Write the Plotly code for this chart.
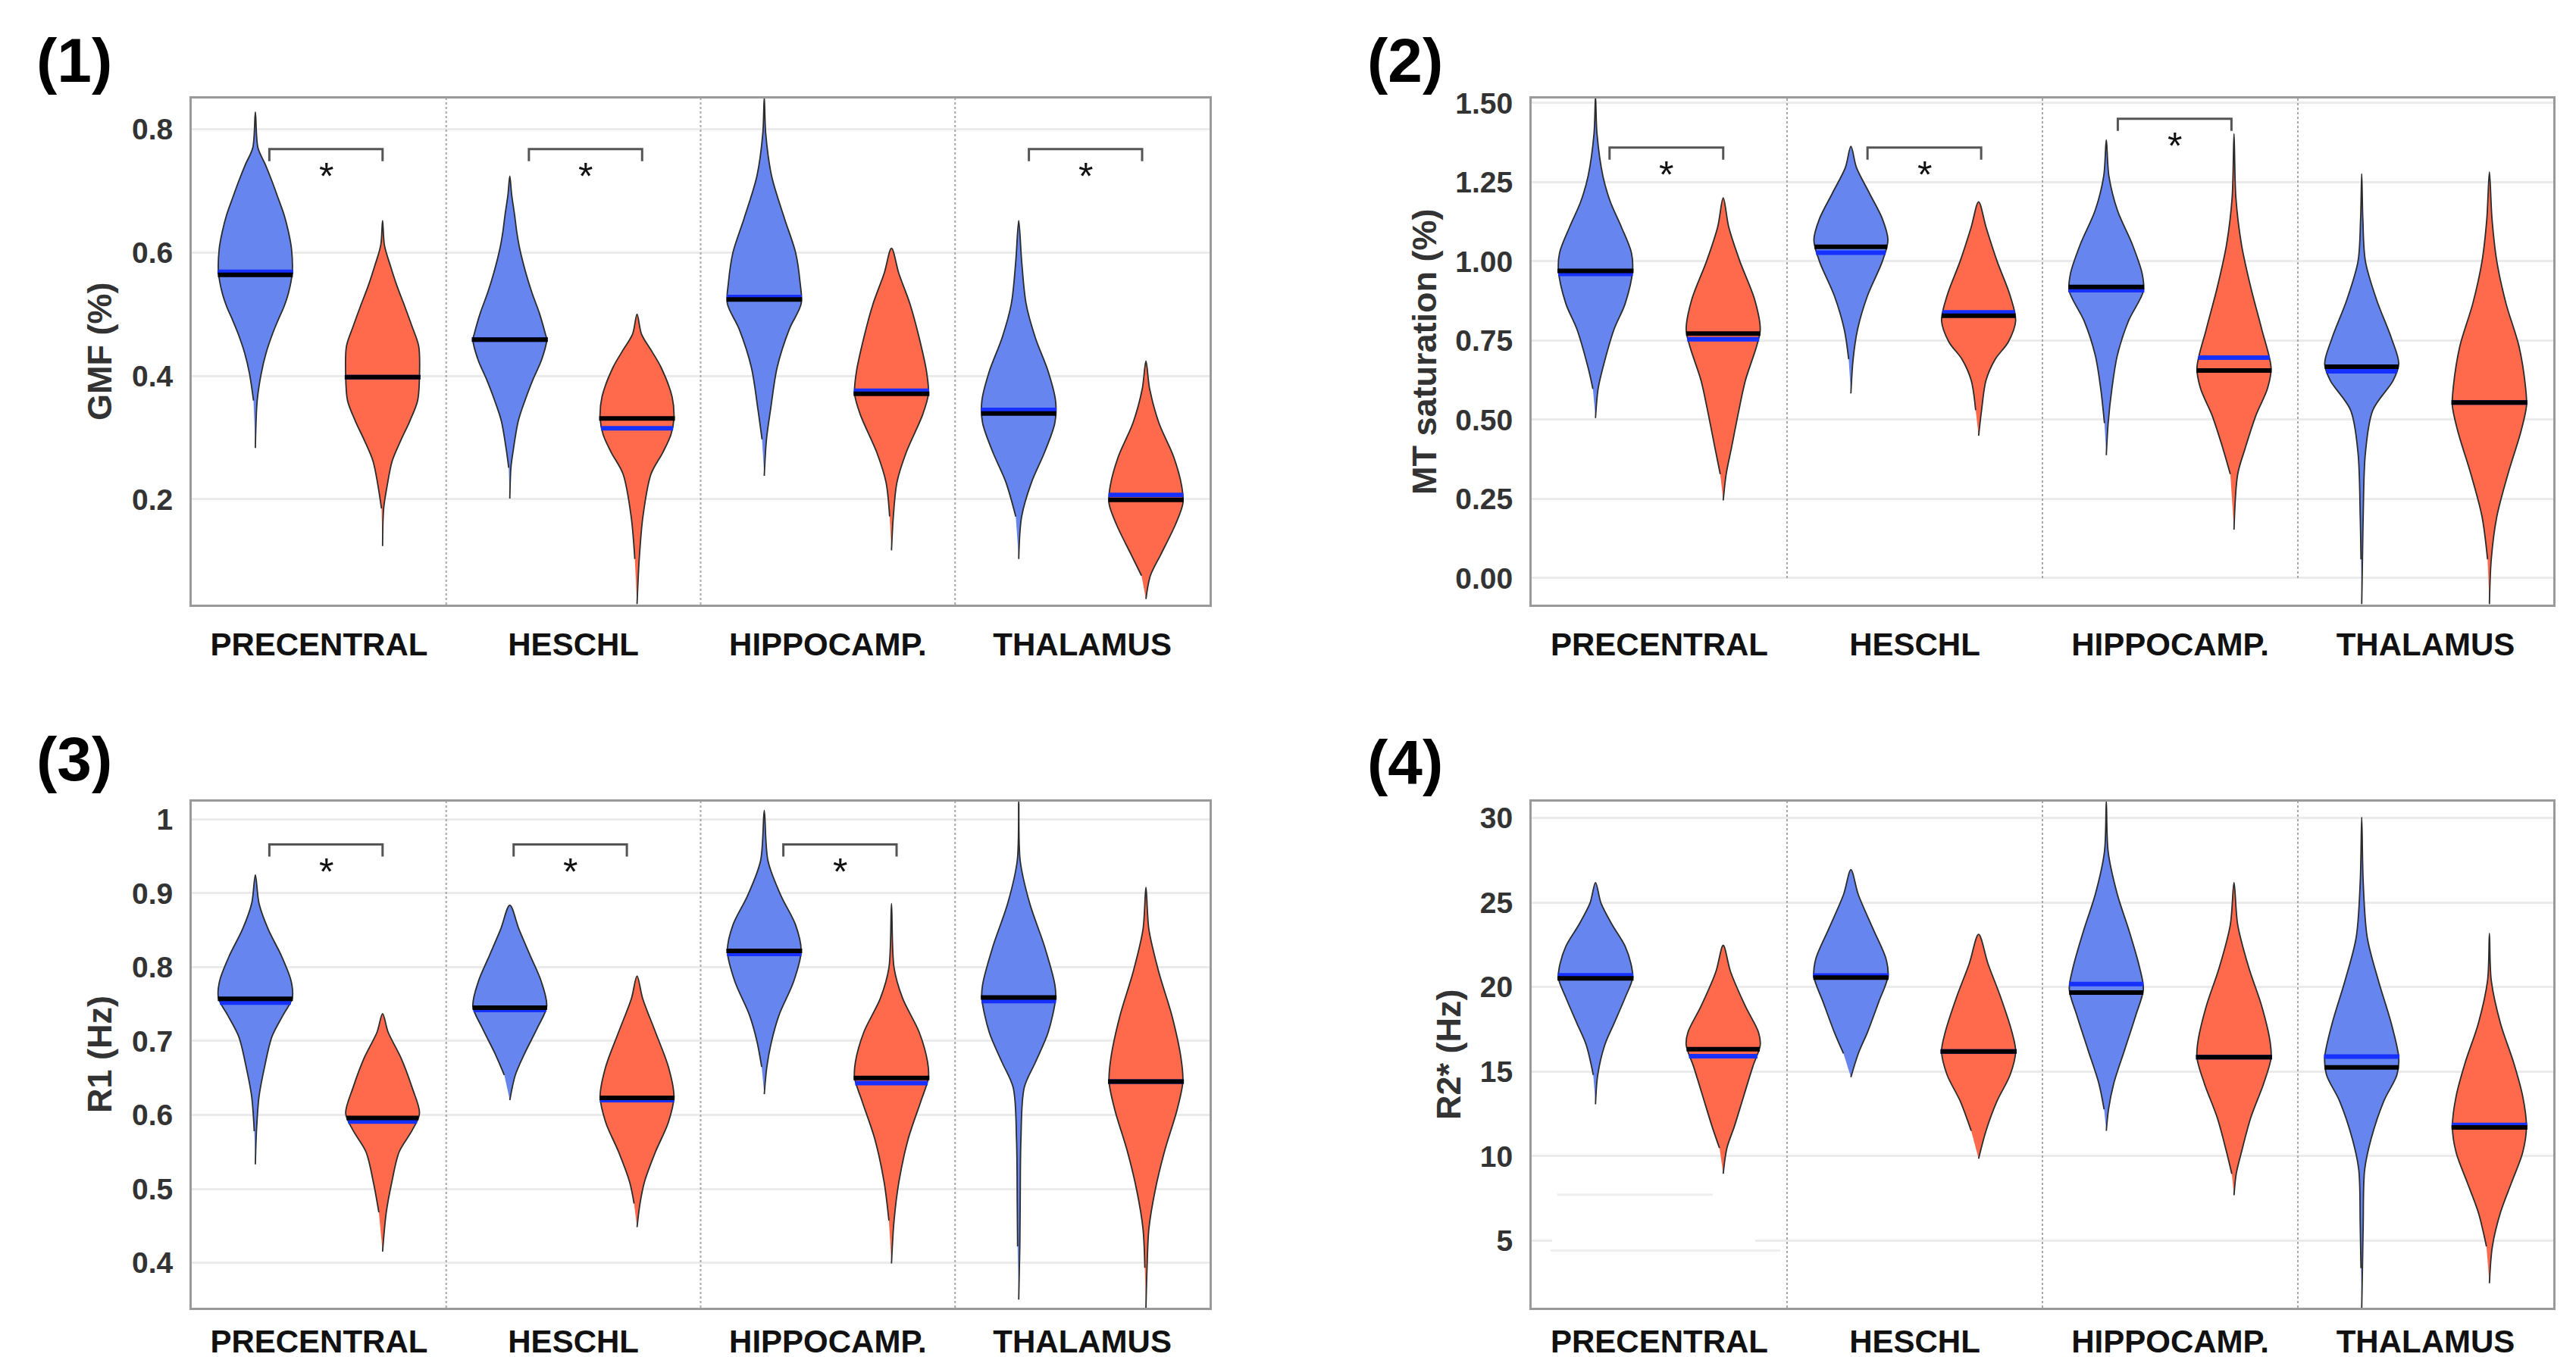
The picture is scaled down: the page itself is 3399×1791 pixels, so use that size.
import numpy as np
import plotly.graph_objects as go

# ---------------- data ----------------
REGIONS = ["PRECENTRAL", "HESCHL", "HIPPOCAMP.", "THALAMUS"]
PANEL_LABELS = ["(1)", "(2)", "(3)", "(4)"]
Y_TITLES = ["GMF (%)", "MT saturation (%)", "R1 (Hz)", "R2* (Hz)"]

# Panel 1 : GMF (%)
GMF_TICKS = [0.2, 0.4, 0.6, 0.8]
GMF_TICKTEXT = ["0.2", "0.4", "0.6", "0.8"]
GMF_RANGE = [0.029, 0.850]
GMF_BLUE_LEVELS = [
    [0.283, 0.36, 0.404, 0.437, 0.469, 0.491, 0.513, 0.535, 0.568, 0.606, 0.633, 0.661, 0.688, 0.716, 0.743, 0.770, 0.828],
    [0.201, 0.251, 0.278, 0.327, 0.36, 0.393, 0.426, 0.459, 0.469, 0.502, 0.535, 0.568, 0.606, 0.633, 0.661, 0.694, 0.724],
    [0.238, 0.297, 0.345, 0.414, 0.476, 0.517, 0.552, 0.60, 0.655, 0.724, 0.793, 0.852],
    [0.103, 0.172, 0.228, 0.276, 0.324, 0.359, 0.407, 0.462, 0.517, 0.586, 0.652],
]
GMF_BLUE_WIDTHS = [
    [0, 0.05, 0.16, 0.29, 0.47, 0.62, 0.78, 0.9, 1.0, 0.98, 0.9, 0.78, 0.62, 0.45, 0.27, 0.07, 0],
    [0, 0.03, 0.09, 0.23, 0.41, 0.62, 0.86, 1.0, 0.96, 0.8, 0.6, 0.43, 0.27, 0.19, 0.13, 0.05, 0],
    [0, 0.06, 0.17, 0.35, 0.68, 1.0, 0.97, 0.85, 0.55, 0.2, 0.04, 0],
    [0, 0.08, 0.35, 0.7, 0.98, 1.0, 0.8, 0.45, 0.2, 0.08, 0],
]
GMF_BLUE_MEDIAN = [0.564, 0.459, 0.524, 0.339]
GMF_BLUE_MEAN = [0.569, 0.459, 0.528, 0.345]
GMF_RED_LEVELS = [
    [0.124, 0.185, 0.224, 0.262, 0.295, 0.327, 0.36, 0.40, 0.448, 0.480, 0.513, 0.546, 0.579, 0.612, 0.652],
    [0.03, 0.103, 0.172, 0.241, 0.276, 0.305, 0.331, 0.366, 0.414, 0.44, 0.468, 0.50],
    [0.117, 0.172, 0.228, 0.276, 0.338, 0.371, 0.407, 0.462, 0.517, 0.566, 0.607],
    [0.038, 0.076, 0.110, 0.159, 0.193, 0.221, 0.269, 0.324, 0.379, 0.424],
]
GMF_RED_WIDTHS = [
    [0, 0.03, 0.13, 0.26, 0.49, 0.74, 0.95, 1.0, 0.98, 0.8, 0.6, 0.39, 0.21, 0.05, 0],
    [0, 0.06, 0.16, 0.38, 0.7, 0.92, 1.0, 0.95, 0.65, 0.4, 0.12, 0],
    [0, 0.05, 0.15, 0.4, 0.85, 1.0, 0.95, 0.75, 0.5, 0.2, 0],
    [0, 0.12, 0.4, 0.8, 1.0, 0.97, 0.75, 0.35, 0.1, 0],
]
GMF_RED_MEDIAN = [0.398, 0.331, 0.371, 0.199]
GMF_RED_MEAN = [0.398, 0.315, 0.376, 0.207]
GMF_SIGNIF = [True, True, False, True]
GMF_BRACKET_Y = [0.768, 0.768, None, 0.768]

# Panel 2 : MT saturation (%)
MT_TICKS = [0.0, 0.25, 0.5, 0.75, 1.0, 1.25, 1.5]
MT_TICKTEXT = ["0.00", "0.25", "0.50", "0.75", "1.00", "1.25", "1.50"]
MT_RANGE = [-0.084, 1.514]
MT_BLUE_LEVELS = [
    [0.505, 0.597, 0.664, 0.785, 0.866, 0.970, 1.027, 1.108, 1.188, 1.269, 1.403, 1.521],
    [0.583, 0.691, 0.785, 0.892, 1.0, 1.067, 1.134, 1.215, 1.296, 1.363],
    [0.388, 0.489, 0.597, 0.704, 0.812, 0.906, 0.960, 1.054, 1.161, 1.269, 1.383],
    [-0.082, 0.059, 0.194, 0.395, 0.530, 0.624, 0.677, 0.758, 0.879, 1.0, 1.134, 1.276],
]
MT_BLUE_WIDTHS = [
    [0, 0.07, 0.2, 0.5, 0.8, 1.0, 0.97, 0.7, 0.4, 0.2, 0.04, 0],
    [0, 0.06, 0.18, 0.45, 0.85, 1.0, 0.85, 0.5, 0.15, 0],
    [0, 0.05, 0.15, 0.3, 0.6, 1.0, 0.97, 0.7, 0.3, 0.07, 0],
    [0, 0.02, 0.04, 0.1, 0.3, 0.85, 1.0, 0.8, 0.4, 0.1, 0.03, 0],
]
MT_BLUE_MEDIAN = [0.970, 1.046, 0.919, 0.667]
MT_BLUE_MEAN = [0.960, 1.027, 0.909, 0.653]
MT_RED_LEVELS = [
    [0.245, 0.328, 0.409, 0.516, 0.624, 0.731, 0.785, 0.879, 1.0, 1.108, 1.2],
    [0.449, 0.530, 0.624, 0.691, 0.745, 0.812, 0.892, 1.0, 1.108, 1.188],
    [0.153, 0.328, 0.409, 0.516, 0.597, 0.664, 0.785, 0.919, 1.054, 1.202, 1.403],
    [-0.082, 0.059, 0.194, 0.328, 0.462, 0.543, 0.597, 0.731, 0.866, 1.0, 1.134, 1.282],
]
MT_RED_WIDTHS = [
    [0, 0.08, 0.22, 0.4, 0.6, 0.9, 1.0, 0.85, 0.45, 0.15, 0],
    [0, 0.08, 0.2, 0.45, 0.8, 1.0, 0.85, 0.5, 0.2, 0],
    [0, 0.1, 0.3, 0.6, 0.9, 1.0, 0.75, 0.45, 0.2, 0.05, 0],
    [0, 0.05, 0.2, 0.5, 0.85, 1.0, 0.98, 0.8, 0.45, 0.2, 0.07, 0],
]
MT_RED_MEDIAN = [0.772, 0.828, 0.655, 0.554]
MT_RED_MEAN = [0.754, 0.839, 0.696, 0.554]
MT_SIGNIF = [True, True, True, False]
MT_BRACKET_Y = [1.359, 1.359, 1.450, None]

# Panel 3 : R1 (Hz)
R1_TICKS = [0.4, 0.5, 0.6, 0.7, 0.8, 0.9, 1.0]
R1_TICKTEXT = ["0.4", "0.5", "0.6", "0.7", "0.8", "0.9", "1"]
R1_RANGE = [0.339, 1.024]
R1_BLUE_LEVELS = [
    [0.533, 0.578, 0.625, 0.665, 0.706, 0.735, 0.758, 0.781, 0.816, 0.851, 0.886, 0.925],
    [0.62, 0.654, 0.683, 0.718, 0.747, 0.781, 0.816, 0.851, 0.884],
    [0.628, 0.665, 0.700, 0.735, 0.781, 0.822, 0.857, 0.897, 0.944, 1.012],
    [0.35, 0.422, 0.480, 0.567, 0.637, 0.671, 0.712, 0.758, 0.776, 0.828, 0.886, 0.944, 1.024],
]
R1_BLUE_WIDTHS = [
    [0, 0.03, 0.1, 0.25, 0.45, 0.75, 1.0, 0.97, 0.7, 0.35, 0.1, 0],
    [0, 0.15, 0.4, 0.75, 1.0, 0.85, 0.55, 0.25, 0],
    [0, 0.07, 0.2, 0.4, 0.8, 1.0, 0.85, 0.45, 0.1, 0],
    [0, 0.03, 0.04, 0.06, 0.15, 0.45, 0.8, 1.0, 0.98, 0.7, 0.3, 0.04, 0],
]
R1_BLUE_MEDIAN = [0.757, 0.745, 0.822, 0.759]
R1_BLUE_MEAN = [0.752, 0.742, 0.818, 0.754]
R1_RED_LEVELS = [
    [0.415, 0.468, 0.509, 0.55, 0.579, 0.602, 0.637, 0.677, 0.712, 0.737],
    [0.448, 0.480, 0.509, 0.550, 0.590, 0.625, 0.665, 0.712, 0.758, 0.788],
    [0.399, 0.457, 0.509, 0.567, 0.619, 0.650, 0.671, 0.712, 0.758, 0.799, 0.886],
    [0.339, 0.393, 0.446, 0.498, 0.550, 0.608, 0.645, 0.677, 0.735, 0.793, 0.851, 0.908],
]
R1_RED_WIDTHS = [
    [0, 0.1, 0.25, 0.45, 0.8, 1.0, 0.8, 0.5, 0.15, 0],
    [0, 0.08, 0.2, 0.5, 0.85, 1.0, 0.85, 0.5, 0.15, 0],
    [0, 0.07, 0.2, 0.45, 0.8, 1.0, 0.98, 0.75, 0.3, 0.07, 0],
    [0, 0.03, 0.08, 0.25, 0.5, 0.85, 1.0, 0.95, 0.7, 0.35, 0.08, 0],
]
R1_RED_MEDIAN = [0.596, 0.623, 0.650, 0.645]
R1_RED_MEAN = [0.591, 0.620, 0.643, 0.645]
R1_SIGNIF = [True, True, True, False]
R1_BRACKET_Y = [0.966, 0.966, 0.966, None]

# Panel 4 : R2* (Hz)
R2S_TICKS = [5, 10, 15, 20, 25, 30]
R2S_TICKTEXT = ["5", "10", "15", "20", "25", "30"]
R2S_RANGE = [1.04, 30.96]
R2S_BLUE_LEVELS = [
    [13.07, 14.80, 16.57, 17.84, 19.37, 20.51, 21.14, 22.41, 23.68, 24.95, 26.17],
    [14.67, 16.07, 17.34, 19.11, 20.63, 21.65, 23.43, 25.46, 26.93],
    [11.50, 12.77, 14.29, 16.32, 18.35, 19.87, 21.14, 23.43, 25.46, 28.0, 30.99],
    [1.02, 3.38, 5.91, 9.21, 10.99, 13.27, 14.80, 15.81, 17.84, 20.38, 22.92, 26.22, 30.03],
]
R2S_BLUE_WIDTHS = [
    [0, 0.06, 0.25, 0.5, 0.8, 1.0, 0.98, 0.8, 0.45, 0.15, 0],
    [0, 0.2, 0.45, 0.75, 1.0, 0.95, 0.6, 0.2, 0],
    [0, 0.06, 0.2, 0.5, 0.8, 1.0, 0.9, 0.6, 0.3, 0.05, 0],
    [0, 0.02, 0.04, 0.08, 0.25, 0.6, 0.95, 1.0, 0.8, 0.45, 0.15, 0.04, 0],
]
R2S_BLUE_MEDIAN = [20.51, 20.56, 19.67, 15.25]
R2S_BLUE_MEAN = [20.69, 20.68, 20.18, 15.89]
R2S_RED_LEVELS = [
    [8.96, 10.48, 11.75, 13.53, 15.30, 16.57, 17.34, 18.86, 20.89, 22.46],
    [9.85, 11.50, 13.27, 14.80, 16.19, 17.34, 19.37, 21.40, 23.12],
    [7.69, 8.96, 10.23, 12.26, 14.29, 15.81, 16.83, 18.86, 21.14, 23.68, 26.17],
    [2.49, 4.66, 6.68, 8.45, 10.23, 11.75, 13.53, 15.56, 17.84, 20.38, 23.17],
]
R2S_RED_WIDTHS = [
    [0, 0.1, 0.3, 0.55, 0.8, 1.0, 0.95, 0.6, 0.2, 0],
    [0, 0.2, 0.5, 0.85, 1.0, 0.9, 0.6, 0.25, 0],
    [0, 0.06, 0.2, 0.45, 0.8, 1.0, 0.97, 0.75, 0.4, 0.1, 0],
    [0, 0.08, 0.3, 0.6, 0.9, 1.0, 0.9, 0.65, 0.3, 0.05, 0],
]
R2S_RED_MEDIAN = [16.32, 16.19, 15.86, 11.70]
R2S_RED_MEAN = [15.91, 16.19, 15.86, 11.85]
R2S_SIGNIF = [False, False, False, False]
R2S_BRACKET_Y = [None, None, None, None]

# ---------------- styling / layout ----------------
W, H = 3399, 1791
FONT = "Liberation Sans, Arial, Helvetica, sans-serif"
BLUE_FILL = "#6685EE"
RED_FILL = "#FF6A4C"
MEAN_COLOR = "#1530FF"
OUTLINE = "#2b2b2b"
HALF_W = 0.145          # max half width of a violin (category units)
GROUP_OFFSET = 0.25     # blue at -0.25, red at +0.25 from category centre

# plot rectangles in pixels (left, right, top, bottom)
RECTS = [(245, 1588, 122, 790), (2013, 3361, 122, 790),
         (245, 1588, 1050, 1718), (2013, 3361, 1050, 1718)]
TITLE_X = [123, 1871, 123, 1903]
LABEL_POS = [(38, 71), (1794, 71), (38, 993), (1794, 998)]
XLABEL_GAP = [14, 14, 6, 6]

panels = [
    dict(ticks=GMF_TICKS, ticktext=GMF_TICKTEXT, rng=GMF_RANGE,
         bl=GMF_BLUE_LEVELS, bw=GMF_BLUE_WIDTHS, bmed=GMF_BLUE_MEDIAN, bmean=GMF_BLUE_MEAN,
         rl=GMF_RED_LEVELS, rw=GMF_RED_WIDTHS, rmed=GMF_RED_MEDIAN, rmean=GMF_RED_MEAN,
         sig=GMF_SIGNIF, by=GMF_BRACKET_Y, bshift=[0.0, 0.02, 0.0, -0.015], divfrom=None),
    dict(ticks=MT_TICKS, ticktext=MT_TICKTEXT, rng=MT_RANGE,
         bl=MT_BLUE_LEVELS, bw=MT_BLUE_WIDTHS, bmed=MT_BLUE_MEDIAN, bmean=MT_BLUE_MEAN,
         rl=MT_RED_LEVELS, rw=MT_RED_WIDTHS, rmed=MT_RED_MEDIAN, rmean=MT_RED_MEAN,
         sig=MT_SIGNIF, by=MT_BRACKET_Y, bshift=[0.0, 0.01, -0.01, 0.0], divfrom=0.0),
    dict(ticks=R1_TICKS, ticktext=R1_TICKTEXT, rng=R1_RANGE,
         bl=R1_BLUE_LEVELS, bw=R1_BLUE_WIDTHS, bmed=R1_BLUE_MEDIAN, bmean=R1_BLUE_MEAN,
         rl=R1_RED_LEVELS, rw=R1_RED_WIDTHS, rmed=R1_RED_MEDIAN, rmean=R1_RED_MEAN,
         sig=R1_SIGNIF, by=R1_BRACKET_Y, bshift=[0.0, -0.04, 0.02, 0.0], divfrom=None),
    dict(ticks=R2S_TICKS, ticktext=R2S_TICKTEXT, rng=R2S_RANGE,
         bl=R2S_BLUE_LEVELS, bw=R2S_BLUE_WIDTHS, bmed=R2S_BLUE_MEDIAN, bmean=R2S_BLUE_MEAN,
         rl=R2S_RED_LEVELS, rw=R2S_RED_WIDTHS, rmed=R2S_RED_MEDIAN, rmean=R2S_RED_MEAN,
         sig=R2S_SIGNIF, by=R2S_BRACKET_Y, bshift=[0, 0, 0, 0], divfrom=None),
]

fig = go.Figure()
shapes = []
annotations = []
layout = dict(template="none", width=W, height=H, margin=dict(l=0, r=0, t=0, b=0, autoexpand=False),
              paper_bgcolor="white", plot_bgcolor="white", showlegend=False)


def violin(xref, yref, centre, levels, widths, fill):
    lv = np.asarray(levels, float)
    wd = np.asarray(widths, float) * HALF_W
    xs = np.concatenate([centre + wd, (centre - wd)[-2:0:-1]])
    ys = np.concatenate([lv, lv[-2:0:-1]])
    fig.add_trace(go.Scatter(x=xs, y=ys, xaxis=xref, yaxis=yref, mode="lines",
                             fill="toself", fillcolor=fill,
                             line=dict(color=OUTLINE, width=1.8, shape="spline", smoothing=0.9),
                             hoverinfo="skip"))


def hline(xref, yref, centre, levels, widths, value, colour):
    w = float(np.interp(value, levels, widths)) * HALF_W + 0.004
    fig.add_trace(go.Scatter(x=[centre - w, centre + w], y=[value, value], xaxis=xref, yaxis=yref,
                             mode="lines", line=dict(color=colour, width=6), hoverinfo="skip"))


for i, p in enumerate(panels):
    sfx = "" if i == 0 else str(i + 1)
    xref, yref = "x" + sfx, "y" + sfx
    L, R, T, B = RECTS[i]
    rng = p["rng"]
    units_per_px = (rng[1] - rng[0]) / (B - T)

    layout["xaxis" + sfx] = dict(
        domain=[L / W, R / W], range=[0, 4], anchor=yref, automargin=False,
        tickmode="array", tickvals=[0.5, 1.5, 2.5, 3.5], ticktext=REGIONS,
        tickfont=dict(family=FONT, size=42, color="#111111", weight="bold"),
        ticks="outside", ticklen=XLABEL_GAP[i], tickcolor="rgba(0,0,0,0)",
        showgrid=False, zeroline=False, showline=True, mirror=True,
        linecolor="#9a9a9a", linewidth=3)
    layout["yaxis" + sfx] = dict(
        domain=[1 - B / H, 1 - T / H], range=rng, anchor=xref, automargin=False,
        tickmode="array", tickvals=p["ticks"], ticktext=p["ticktext"],
        tickfont=dict(family=FONT, size=39, color="#333333", weight="bold"),
        ticks="outside", ticklen=14, tickcolor="rgba(0,0,0,0)",
        showgrid=True, gridcolor="#EBEBEB", gridwidth=3,
        zeroline=False, showline=True, mirror=True,
        linecolor="#9a9a9a", linewidth=3)

    # dotted category dividers
    for k in (1, 2, 3):
        y0 = rng[0] if p["divfrom"] is None else p["divfrom"]
        shapes.append(dict(type="line", xref=xref, yref=yref, x0=k, x1=k, y0=y0, y1=rng[1],
                           line=dict(color="#a8a8a8", width=2, dash="dot"), layer="between"))

    for c in range(4):
        cb = c + 0.5 - GROUP_OFFSET
        cr = c + 0.5 + GROUP_OFFSET
        violin(xref, yref, cb, p["bl"][c], p["bw"][c], BLUE_FILL)
        violin(xref, yref, cr, p["rl"][c], p["rw"][c], RED_FILL)
        hline(xref, yref, cb, p["bl"][c], p["bw"][c], p["bmean"][c], MEAN_COLOR)
        hline(xref, yref, cb, p["bl"][c], p["bw"][c], p["bmed"][c], "#000000")
        hline(xref, yref, cr, p["rl"][c], p["rw"][c], p["rmean"][c], MEAN_COLOR)
        hline(xref, yref, cr, p["rl"][c], p["rw"][c], p["rmed"][c], "#000000")

        if p["sig"][c]:
            yb = p["by"][c]
            drop = 16 * units_per_px
            x0 = c + 0.305 + p["bshift"][c]
            x1 = c + 0.75 + p["bshift"][c]
            fig.add_trace(go.Scatter(x=[x0, x0, x1, x1], y=[yb - drop, yb, yb, yb - drop],
                                     xaxis=xref, yaxis=yref, mode="lines",
                                     line=dict(color="#555555", width=3), hoverinfo="skip"))
            annotations.append(dict(x=(x0 + x1) / 2, y=yb, xref=xref, yref=yref, text="*",
                                    showarrow=False, yanchor="middle", yshift=-36,
                                    font=dict(family=FONT, size=50, color="#111111")))

    # axis title
    annotations.append(dict(x=TITLE_X[i] / W, y=1 - (T + B) / 2 / H, xref="paper", yref="paper",
                            text=Y_TITLES[i], textangle=-90, showarrow=False,
                            xanchor="center", yanchor="middle",
                            font=dict(family=FONT, size=45, color="#333333", weight="bold")))
    # panel label
    lx, ly = LABEL_POS[i]
    annotations.append(dict(x=lx / W, y=1 - ly / H, xref="paper", yref="paper",
                            text=PANEL_LABELS[i], showarrow=False,
                            xanchor="left", yanchor="middle",
                            font=dict(family=FONT, size=82, color="#000000", weight="bold")))

# faint scan artefacts visible in panel (4): broken grid line near 5 and two ghost lines
shapes.append(dict(type="line", xref="x4", yref="y4", x0=0.08, x1=0.875, y0=5, y1=5,
                   line=dict(color="white", width=5), layer="between"))
shapes.append(dict(type="line", xref="x4", yref="y4", x0=0.10, x1=0.71, y0=7.73, y1=7.73,
                   line=dict(color="#EFEFEF", width=3), layer="between"))
shapes.append(dict(type="line", xref="x4", yref="y4", x0=0.074, x1=0.973, y0=4.42, y1=4.42,
                   line=dict(color="#EFEFEF", width=3), layer="between"))

layout["shapes"] = shapes
layout["annotations"] = annotations
fig.update_layout(**layout)
fig.write_html("out.html")
